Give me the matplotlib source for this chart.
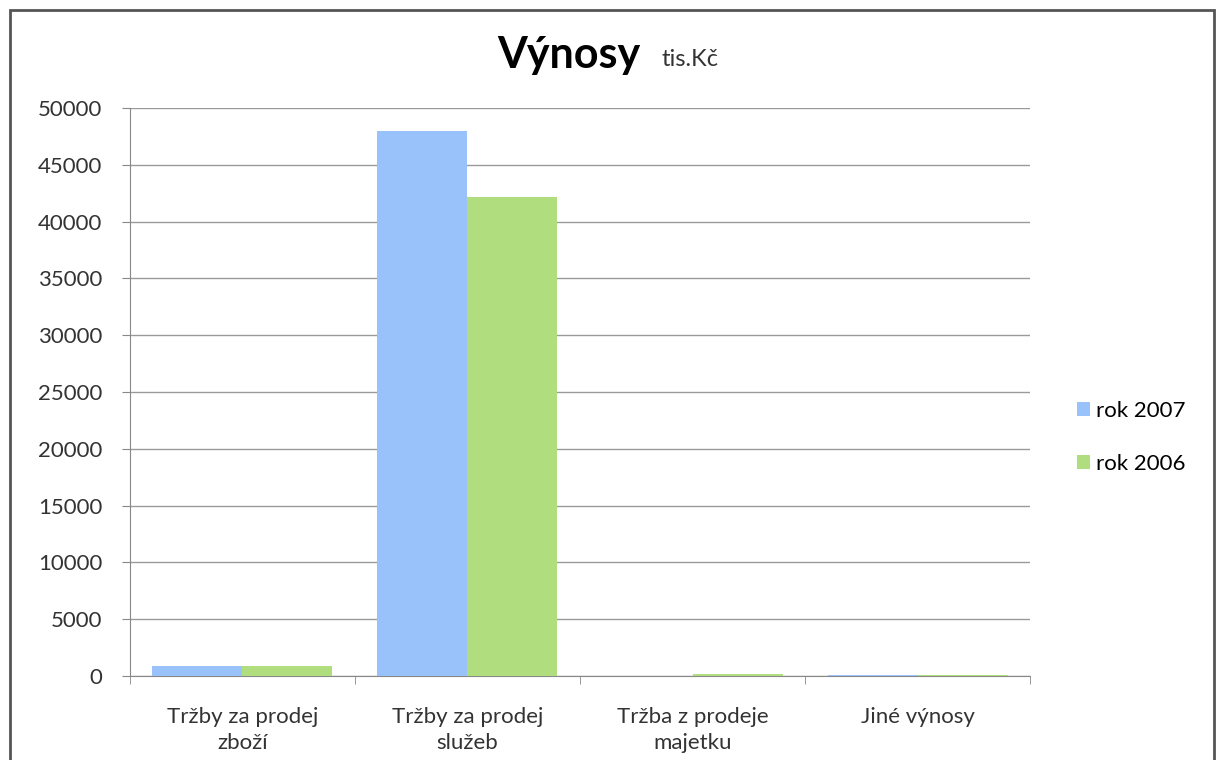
import matplotlib.pyplot as plt
import numpy as np
from matplotlib.patches import Rectangle

categories = ["Tržby za prodej\nzboží", "Tržby za prodej\nslužeb", "Tržba z prodeje\nmajetku", "Jiné výnosy"]
rok_2007 = [900, 48000, 0, 100]
rok_2006 = [900, 42200, 150, 50]
series_names = ["rok 2007", "rok 2006"]
y_ticks = list(range(0, 50001, 5000))

plt.rcParams["font.family"] = ["Lato", "DejaVu Sans"]

fig = plt.figure(figsize=(12.19, 7.6), dpi=100)
ax = fig.add_axes([0.1066, 0.1105, 0.7384, 0.7475])

x = np.arange(len(categories))
w = 0.4
ax.bar(x - w / 2, rok_2007, w, color="#99c2fb", label=series_names[0], zorder=3)
ax.bar(x + w / 2, rok_2006, w, color="#b0de7e", label=series_names[1], zorder=3)

ax.set_xlim(-0.5, len(categories) - 0.5)
ax.set_ylim(0, 50000)
ax.set_yticks(y_ticks)
ax.set_yticklabels([str(v) for v in y_ticks], fontsize=16, color="#333333")
ax.yaxis.grid(True, color="#9a9a9a", linewidth=1, zorder=0)
ax.set_xticks(x)
ax.set_xticklabels(categories, fontsize=16, color="#333333", linespacing=1.4)
ax.tick_params(axis="x", length=0, pad=22)
ax.set_xticks(np.arange(len(categories) + 1) - 0.5, minor=True)
ax.tick_params(axis="x", which="minor", length=6, color="#888888")
ax.tick_params(axis="y", length=6, color="#888888", pad=14)
for s in ["top", "right"]:
    ax.spines[s].set_visible(False)
ax.spines["left"].set_color("#888888")
ax.spines["bottom"].set_color("#888888")

fig.text(0.467, 0.928, "Výnosy", fontsize=31, fontweight="bold", ha="center", va="center")
fig.text(0.543, 0.922, "tis.Kč", fontsize=17, ha="left", va="center", color="#333333")

ax.legend(loc="center left", bbox_to_anchor=(1.03, 0.42), frameon=False, fontsize=16,
          handlelength=0.6, handleheight=0.6, handletextpad=0.25, labelspacing=1.5)

fig.patches.append(Rectangle((10 / 1219, -0.05), 1204 / 1219, 1 - 10 / 760 + 0.05,
                             transform=fig.transFigure, fill=False, edgecolor="#555555", linewidth=2))

fig.savefig("out.png", dpi=100)
